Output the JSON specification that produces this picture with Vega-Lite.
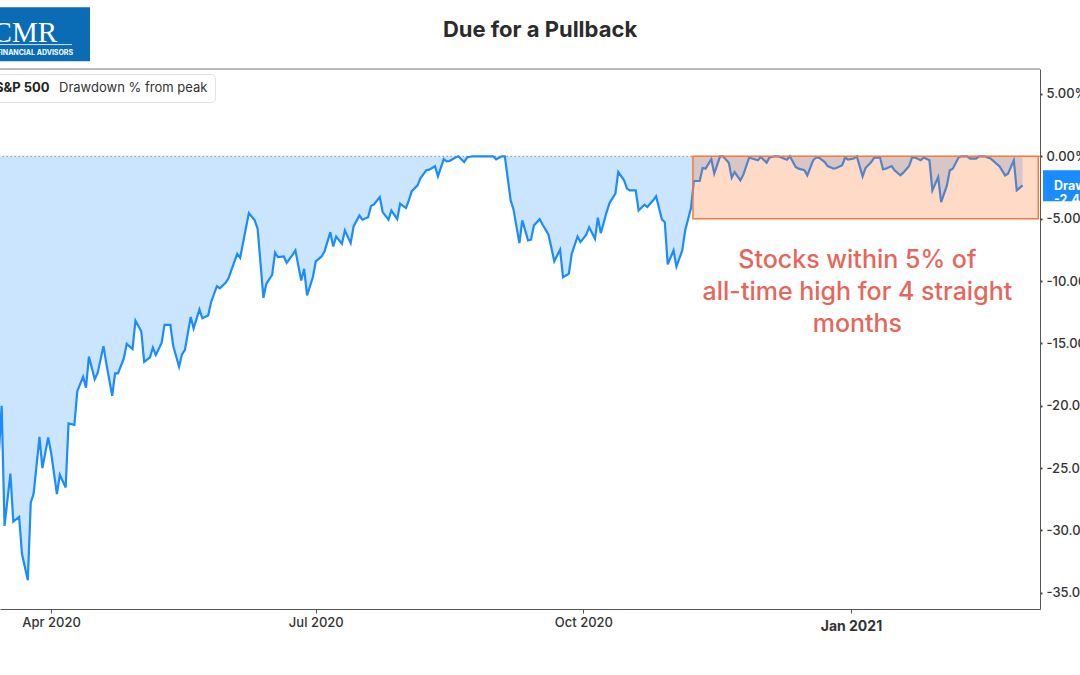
{
  "$schema": "https://vega.github.io/schema/vega-lite/v6.json",
  "width": 1040,
  "height": 540,
  "autosize": {"type": "none"},
  "padding": {"left": 0, "top": 69, "right": 40, "bottom": 66},
  "background": "white",
  "title": {"text": "Due for a Pullback", "fontSize": 22, "font": "Inter", "fontWeight": "bold", "color": "#2b2b2b", "anchor": "middle", "frame": "group", "dx": 20, "offset": -35},
  "config": {"view": {"stroke": null}, "font": "Inter"},
  "data": {"values": [
    {"date":"2020-03-14","dd":-24.0},{"date":"2020-03-15","dd":-20.0},{"date":"2020-03-16","dd":-29.64},{"date":"2020-03-18","dd":-25.44},{"date":"2020-03-19","dd":-29.29},{"date":"2020-03-21","dd":-28.92},{"date":"2020-03-22","dd":-31.89},{"date":"2020-03-24","dd":-34.0},{"date":"2020-03-25","dd":-27.77},{"date":"2020-03-26","dd":-27.04},{"date":"2020-03-28","dd":-22.49},{"date":"2020-03-29","dd":-25.0},{"date":"2020-03-31","dd":-22.55},
    {"date":"2020-04-01","dd":-23.75},{"date":"2020-04-03","dd":-27.09},{"date":"2020-04-04","dd":-25.54},{"date":"2020-04-06","dd":-26.56},{"date":"2020-04-07","dd":-21.42},{"date":"2020-04-09","dd":-21.53},{"date":"2020-04-10","dd":-18.85},{"date":"2020-04-12","dd":-17.67},{"date":"2020-04-13","dd":-18.55},{"date":"2020-04-14","dd":-16.06},{"date":"2020-04-16","dd":-17.87},{"date":"2020-04-17","dd":-17.37},{"date":"2020-04-19","dd":-15.22},{"date":"2020-04-20","dd":-16.63},{"date":"2020-04-22","dd":-19.21},{"date":"2020-04-23","dd":-17.41},{"date":"2020-04-24","dd":-17.41},{"date":"2020-04-26","dd":-16.21},{"date":"2020-04-27","dd":-15.04},{"date":"2020-04-29","dd":-15.46},{"date":"2020-04-30","dd":-13.17},
    {"date":"2020-05-02","dd":-14.03},{"date":"2020-05-03","dd":-16.48},{"date":"2020-05-05","dd":-16.12},{"date":"2020-05-06","dd":-15.34},{"date":"2020-05-07","dd":-15.93},{"date":"2020-05-09","dd":-14.96},{"date":"2020-05-10","dd":-13.52},{"date":"2020-05-12","dd":-13.52},{"date":"2020-05-13","dd":-15.22},{"date":"2020-05-15","dd":-16.87},{"date":"2020-05-16","dd":-15.88},{"date":"2020-05-17","dd":-15.53},{"date":"2020-05-19","dd":-12.88},{"date":"2020-05-20","dd":-13.8},{"date":"2020-05-22","dd":-12.27},{"date":"2020-05-23","dd":-12.99},{"date":"2020-05-25","dd":-12.77},{"date":"2020-05-26","dd":-11.7},{"date":"2020-05-28","dd":-10.42},{"date":"2020-05-29","dd":-10.58},{"date":"2020-05-31","dd":-10.15},
    {"date":"2020-06-01","dd":-9.78},{"date":"2020-06-02","dd":-9.1},{"date":"2020-06-04","dd":-7.82},{"date":"2020-06-05","dd":-8.14},{"date":"2020-06-07","dd":-5.73},{"date":"2020-06-08","dd":-4.55},{"date":"2020-06-10","dd":-5.14},{"date":"2020-06-11","dd":-5.81},{"date":"2020-06-13","dd":-11.35},{"date":"2020-06-14","dd":-10.22},{"date":"2020-06-16","dd":-9.5},{"date":"2020-06-17","dd":-7.73},{"date":"2020-06-18","dd":-8.09},{"date":"2020-06-20","dd":-8.03},{"date":"2020-06-21","dd":-8.54},{"date":"2020-06-23","dd":-7.9},{"date":"2020-06-24","dd":-7.55},{"date":"2020-06-26","dd":-9.96},{"date":"2020-06-27","dd":-9.02},{"date":"2020-06-28","dd":-11.16},{"date":"2020-06-30","dd":-9.69},
    {"date":"2020-07-01","dd":-8.43},{"date":"2020-07-03","dd":-8.03},{"date":"2020-07-04","dd":-7.63},{"date":"2020-07-06","dd":-6.08},{"date":"2020-07-07","dd":-7.23},{"date":"2020-07-08","dd":-6.43},{"date":"2020-07-10","dd":-7.01},{"date":"2020-07-11","dd":-5.94},{"date":"2020-07-13","dd":-6.96},{"date":"2020-07-14","dd":-5.62},{"date":"2020-07-16","dd":-4.74},{"date":"2020-07-17","dd":-5.08},{"date":"2020-07-19","dd":-4.88},{"date":"2020-07-20","dd":-3.99},{"date":"2020-07-21","dd":-3.86},{"date":"2020-07-23","dd":-3.27},{"date":"2020-07-24","dd":-4.47},{"date":"2020-07-26","dd":-5.08},{"date":"2020-07-27","dd":-4.34},{"date":"2020-07-29","dd":-5.04},{"date":"2020-07-30","dd":-3.8},
    {"date":"2020-08-01","dd":-4.15},{"date":"2020-08-02","dd":-3.53},{"date":"2020-08-03","dd":-2.79},{"date":"2020-08-05","dd":-2.33},{"date":"2020-08-06","dd":-1.74},{"date":"2020-08-08","dd":-1.12},{"date":"2020-08-09","dd":-1.07},{"date":"2020-08-11","dd":-0.8},{"date":"2020-08-12","dd":-1.61},{"date":"2020-08-14","dd":-0.22},{"date":"2020-08-15","dd":-0.4},{"date":"2020-08-16","dd":-0.38},{"date":"2020-08-18","dd":-0.1},{"date":"2020-08-19","dd":0},{"date":"2020-08-21","dd":-0.46},{"date":"2020-08-22","dd":-0.1},{"date":"2020-08-24","dd":0},{"date":"2020-08-25","dd":0},{"date":"2020-08-26","dd":0},{"date":"2020-08-28","dd":0},{"date":"2020-08-29","dd":0},{"date":"2020-08-31","dd":0},
    {"date":"2020-09-01","dd":-0.24},{"date":"2020-09-03","dd":0},{"date":"2020-09-04","dd":0},{"date":"2020-09-06","dd":-3.53},{"date":"2020-09-07","dd":-4.28},{"date":"2020-09-09","dd":-6.96},{"date":"2020-09-10","dd":-5.14},{"date":"2020-09-12","dd":-6.75},{"date":"2020-09-13","dd":-6.69},{"date":"2020-09-14","dd":-5.54},{"date":"2020-09-16","dd":-5.04},{"date":"2020-09-17","dd":-5.49},{"date":"2020-09-19","dd":-6.27},{"date":"2020-09-20","dd":-7.34},{"date":"2020-09-21","dd":-8.41},{"date":"2020-09-23","dd":-7.49},{"date":"2020-09-24","dd":-9.69},{"date":"2020-09-26","dd":-9.42},{"date":"2020-09-27","dd":-7.82},{"date":"2020-09-29","dd":-6.43},{"date":"2020-09-30","dd":-6.88},
    {"date":"2020-10-02","dd":-6.29},{"date":"2020-10-03","dd":-5.68},{"date":"2020-10-05","dd":-6.61},{"date":"2020-10-06","dd":-4.92},{"date":"2020-10-07","dd":-6.16},{"date":"2020-10-09","dd":-4.47},{"date":"2020-10-10","dd":-3.75},{"date":"2020-10-12","dd":-3.0},{"date":"2020-10-13","dd":-1.26},{"date":"2020-10-15","dd":-1.93},{"date":"2020-10-16","dd":-2.59},{"date":"2020-10-17","dd":-2.73},{"date":"2020-10-19","dd":-2.73},{"date":"2020-10-20","dd":-4.34},{"date":"2020-10-22","dd":-3.88},{"date":"2020-10-23","dd":-4.07},{"date":"2020-10-25","dd":-3.53},{"date":"2020-10-26","dd":-3.21},{"date":"2020-10-28","dd":-5.06},{"date":"2020-10-29","dd":-5.28},{"date":"2020-10-30","dd":-8.67},
    {"date":"2020-11-01","dd":-7.55},{"date":"2020-11-02","dd":-8.84},{"date":"2020-11-04","dd":-7.55},{"date":"2020-11-05","dd":-5.94},{"date":"2020-11-07","dd":-4.14},{"date":"2020-11-08","dd":-1.98},{"date":"2020-11-10","dd":-1.98},{"date":"2020-11-11","dd":-0.94},{"date":"2020-11-12","dd":-0.99},{"date":"2020-11-14","dd":-0.24},{"date":"2020-11-15","dd":-1.39},{"date":"2020-11-17","dd":0},{"date":"2020-11-18","dd":0},{"date":"2020-11-20","dd":-0.51},{"date":"2020-11-21","dd":-1.71},{"date":"2020-11-22","dd":-1.26},{"date":"2020-11-24","dd":-1.93},{"date":"2020-11-25","dd":-1.47},{"date":"2020-11-27","dd":-0.1},{"date":"2020-11-28","dd":-0.18},{"date":"2020-11-30","dd":-0.32},
    {"date":"2020-12-01","dd":-0.06},{"date":"2020-12-03","dd":-0.51},{"date":"2020-12-04","dd":-0.1},{"date":"2020-12-06","dd":0},{"date":"2020-12-07","dd":0},{"date":"2020-12-08","dd":-0.1},{"date":"2020-12-10","dd":-0.27},{"date":"2020-12-11","dd":0},{"date":"2020-12-13","dd":-0.86},{"date":"2020-12-14","dd":-0.99},{"date":"2020-12-16","dd":-1.12},{"date":"2020-12-17","dd":-1.53},{"date":"2020-12-19","dd":-0.32},{"date":"2020-12-20","dd":-0.1},{"date":"2020-12-21","dd":-0.1},{"date":"2020-12-23","dd":-0.46},{"date":"2020-12-24","dd":-0.78},{"date":"2020-12-26","dd":-0.99},{"date":"2020-12-27","dd":-0.94},{"date":"2020-12-29","dd":-0.72},{"date":"2020-12-30","dd":-0.1},{"date":"2020-12-31","dd":-0.27},
    {"date":"2021-01-02","dd":-0.18},{"date":"2021-01-03","dd":0},{"date":"2021-01-05","dd":-1.61},{"date":"2021-01-06","dd":-0.94},{"date":"2021-01-08","dd":-0.46},{"date":"2021-01-09","dd":-0.1},{"date":"2021-01-11","dd":-0.1},{"date":"2021-01-12","dd":-1.04},{"date":"2021-01-13","dd":-0.99},{"date":"2021-01-15","dd":-0.78},{"date":"2021-01-16","dd":-1.12},{"date":"2021-01-18","dd":-1.53},{"date":"2021-01-19","dd":-1.31},{"date":"2021-01-21","dd":-0.78},{"date":"2021-01-22","dd":-0.1},{"date":"2021-01-23","dd":-0.1},{"date":"2021-01-25","dd":-0.32},{"date":"2021-01-26","dd":-0.1},{"date":"2021-01-28","dd":-0.32},{"date":"2021-01-29","dd":-2.73},{"date":"2021-01-31","dd":-1.66},
    {"date":"2021-02-01","dd":-3.67},{"date":"2021-02-03","dd":-2.33},{"date":"2021-02-04","dd":-1.12},{"date":"2021-02-05","dd":-0.99},{"date":"2021-02-07","dd":-0.1},{"date":"2021-02-08","dd":0},{"date":"2021-02-10","dd":0},{"date":"2021-02-11","dd":-0.18},{"date":"2021-02-13","dd":-0.18},{"date":"2021-02-14","dd":0},{"date":"2021-02-16","dd":0},{"date":"2021-02-17","dd":-0.1},{"date":"2021-02-18","dd":-0.18},{"date":"2021-02-20","dd":-0.59},{"date":"2021-02-21","dd":-0.78},{"date":"2021-02-23","dd":-1.53},{"date":"2021-02-24","dd":-1.39},{"date":"2021-02-26","dd":-0.32},{"date":"2021-02-27","dd":-2.73},
    {"date":"2021-03-01","dd":-2.33}
  ]},
  "layer": [
    {
      "mark": {"type": "area", "color": "#cce5ff", "clip": true},
      "encoding": {
        "x": {"field": "date", "type": "temporal",
          "scale": {"type": "utc", "domain": [{"year":2020,"month":3,"date":14,"hours":10,"minutes":19,"utc":true},{"year":2021,"month":3,"date":7,"utc":true}]},
          "axis": {"title": null, "values": [{"year":2020,"month":4,"date":1,"utc":true},{"year":2020,"month":7,"date":1,"utc":true},{"year":2020,"month":10,"date":1,"utc":true},{"year":2021,"month":1,"date":1,"utc":true}],
            "labelExpr": "utcFormat(datum.value, '%b %Y')", "grid": false, "domainColor": "#555555", "tickColor": "#555555", "tickSize": 4,
            "labelFont": "Inter", "labelColor": "#333333",
            "labelFontSize": {"condition": {"test": "utcmonth(datum.value) === 0", "value": 14}, "value": 13},
            "labelFontWeight": {"condition": {"test": "utcmonth(datum.value) === 0", "value": "bold"}, "value": 500},
            "labelPadding": {"condition": {"test": "utcmonth(datum.value) === 0", "value": 6}, "value": 3}}},
        "y": {"field": "dd", "type": "quantitative",
          "scale": {"domain": [-36.3, 7.0], "nice": false, "zero": false},
          "axis": {"title": null, "orient": "right", "values": [5,0,-5,-10,-15,-20,-25,-30,-35], "grid": false,
            "labelExpr": "(datum.value < 0 ? '-' : '') + format(abs(datum.value), '.2f') + '%'",
            "domainColor": "#555555", "tickColor": "#444444", "tickSize": 2, "tickWidth": 2, "labelPadding": 4,
            "labelFont": "Inter", "labelFontSize": 13, "labelColor": "#333333", "labelFontWeight": 500}},
        "y2": {"datum": 0}
      }
    },
    {
      "data": {"values": [{}]},
      "mark": {"type": "rule", "color": "#8a8a8a", "strokeDash": [1.5, 2.5], "strokeWidth": 1},
      "encoding": {"y": {"datum": 0, "type": "quantitative", "scale": {"domain": [-36.3, 7.0], "nice": false, "zero": false}}}
    },
    {
      "data": {"values": [{}]},
      "mark": {"type": "rule", "color": "#777777", "strokeWidth": 1},
      "encoding": {"y": {"datum": 7.0, "type": "quantitative", "scale": {"domain": [-36.3, 7.0], "nice": false, "zero": false}}}
    },
    {
      "mark": {"type": "line", "strokeWidth": 2.2, "clip": true},
      "encoding": {
        "x": {"field": "date", "type": "temporal", "scale": {"type": "utc", "domain": [{"year":2020,"month":3,"date":14,"hours":10,"minutes":19,"utc":true},{"year":2021,"month":3,"date":7,"utc":true}]}},
        "y": {"field": "dd", "type": "quantitative", "scale": {"domain": [-36.3, 7.0], "nice": false, "zero": false}},
        "color": {"datum": "Drawdown % from peak", "scale": {"range": ["#1a8cff"]},
          "legend": {"title": "S&P 500", "orient": "none", "legendX": -12, "legendY": 5, "direction": "horizontal",
            "titleOrient": "left", "titleFont": "Inter", "titleFontSize": 13, "titleFontWeight": "bold", "titleColor": "#222222", "titlePadding": -4,
            "labelFont": "Inter", "labelFontSize": 13, "labelColor": "#333333", "labelOffset": 0,
            "symbolSize": 0, "symbolStrokeWidth": 0, "symbolOpacity": 0,
            "strokeColor": "#e2e2e2", "fillColor": "white", "cornerRadius": 4, "padding": 7}}
      }
    },
    {
      "data": {"values": [{}]},
      "mark": {"type": "rect", "fill": "#fb6f28", "fillOpacity": 0.26, "stroke": "#f47a3a", "strokeOpacity": 1, "strokeWidth": 1.5},
      "encoding": {
        "x": {"datum": {"year":2020,"month":11,"date":7,"hours":16,"utc":true}, "type": "temporal"},
        "x2": {"datum": {"year":2021,"month":3,"date":6,"hours":10,"utc":true}},
        "y": {"datum": 0, "type": "quantitative"},
        "y2": {"datum": -5}
      }
    },
    {
      "data": {"values": [{}]},
      "mark": {"type": "text", "color": "#e5675b", "font": "Inter", "fontSize": 25, "fontWeight": 500, "align": "center", "baseline": "middle", "lineHeight": 32},
      "encoding": {
        "x": {"datum": {"year":2021,"month":1,"date":3,"hours":5,"utc":true}, "type": "temporal"},
        "y": {"datum": -8.3, "type": "quantitative"},
        "text": {"value": ["Stocks within 5% of", "all-time high for 4 straight", "months"]}
      }
    },
    {
      "data": {"values": [{}]},
      "mark": {"type": "rect", "fill": "#1a8cff"},
      "encoding": {
        "x": {"datum": {"year":2021,"month":3,"date":8,"hours":1,"utc":true}, "type": "temporal"},
        "x2": {"datum": {"year":2021,"month":3,"date":25,"utc":true}},
        "y": {"datum": -1.12, "type": "quantitative"},
        "y2": {"datum": -3.61}
      }
    },
    {
      "data": {"values": [{}]},
      "mark": {"type": "text", "color": "white", "font": "Inter", "fontSize": 12.5, "fontWeight": "bold", "align": "left", "baseline": "middle", "lineHeight": 14},
      "encoding": {
        "x": {"datum": {"year":2021,"month":3,"date":11,"hours":19,"utc":true}, "type": "temporal"},
        "y": {"datum": -2.37, "type": "quantitative"},
        "text": {"value": ["Drawdown", "-2.42%"]}
      }
    },
    {
      "data": {"values": [{}]},
      "mark": {"type": "rect", "fill": "#0b6cb6"},
      "encoding": {
        "x": {"datum": {"year":2020,"month":2,"date":1,"utc":true}, "type": "temporal"},
        "x2": {"datum": {"year":2020,"month":4,"date":14,"hours":9,"utc":true}},
        "y": {"datum": 11.95, "type": "quantitative"},
        "y2": {"datum": 7.62}
      }
    },
    {
      "data": {"values": [{}]},
      "mark": {"type": "text", "color": "white", "font": "Liberation Serif", "fontSize": 29, "align": "right", "baseline": "alphabetic"},
      "encoding": {
        "x": {"datum": {"year":2020,"month":4,"date":3,"hours":1,"utc":true}, "type": "temporal"},
        "y": {"datum": 9.17, "type": "quantitative"},
        "text": {"value": "CMR"}
      }
    },
    {
      "data": {"values": [{}]},
      "mark": {"type": "rule", "color": "white", "strokeWidth": 1, "opacity": 0.8},
      "encoding": {
        "x": {"datum": {"year":2020,"month":2,"date":1,"utc":true}, "type": "temporal"},
        "x2": {"datum": {"year":2020,"month":4,"date":8,"hours":4,"utc":true}},
        "y": {"datum": 8.96, "type": "quantitative"}
      }
    },
    {
      "data": {"values": [{}]},
      "mark": {"type": "text", "color": "white", "font": "Inter", "fontSize": 7, "fontWeight": "bold", "align": "right", "baseline": "alphabetic"},
      "encoding": {
        "x": {"datum": {"year":2020,"month":4,"date":8,"hours":13,"utc":true}, "type": "temporal"},
        "y": {"datum": 8.1, "type": "quantitative"},
        "text": {"value": "FINANCIAL ADVISORS"}
      }
    }
  ]
}
